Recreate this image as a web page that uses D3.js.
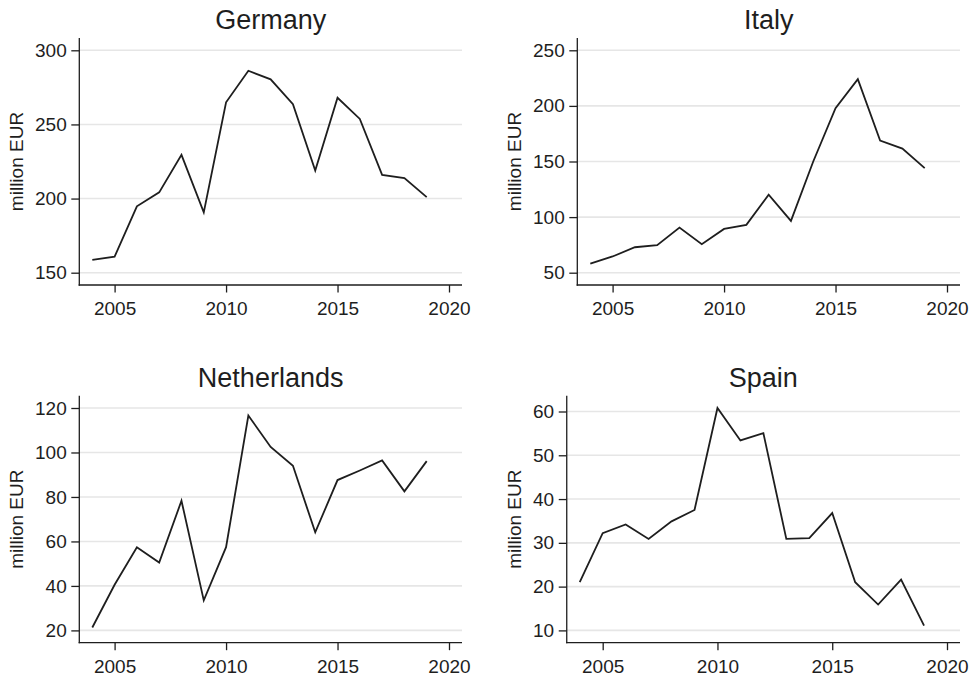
<!DOCTYPE html>
<html>
<head>
<meta charset="utf-8">
<script src="https://cdn.jsdelivr.net/npm/d3@7"></script>
<style>
  body { margin: 0; background: #fff; }
  svg text { font-family: "Liberation Sans", Arial, Helvetica, sans-serif; fill: #1e1e1e; }
</style>
</head>
<body>
<svg id="chart" width="974" height="679"></svg>
<script>
// Annual values, million EUR
const years = [2004, 2005, 2006, 2007, 2008, 2009, 2010, 2011, 2012, 2013, 2014, 2015, 2016, 2017, 2018, 2019];
const germany = [158.7, 160.8, 194.8, 204.2, 229.5, 190.7, 264.9, 286.2, 280.4, 263.6, 218.9, 268.0, 253.7, 216.0, 213.8, 201.0];
const italy = [58.1, 64.6, 72.9, 74.7, 90.6, 75.6, 89.4, 93.0, 120.2, 96.6, 150.0, 198.0, 224.1, 168.8, 161.6, 144.1];
const netherlands = [21.3, 40.5, 57.4, 50.5, 78.3, 33.5, 57.4, 116.6, 102.5, 94.0, 64.1, 87.6, 91.9, 96.4, 82.5, 96.1];
const spain = [21.0, 32.2, 34.2, 30.9, 34.9, 37.5, 60.8, 53.4, 55.05, 30.9, 31.1, 36.8, 21.0, 15.9, 21.6, 11.1];

// Tick labels
const xTicks = [2005, 2010, 2015, 2020];
const germanyTicks = [150, 200, 250, 300];
const italyTicks = [50, 100, 150, 200, 250];
const netherlandsTicks = [20, 40, 60, 80, 100, 120];
const spainTicks = [10, 20, 30, 40, 50, 60];
const yTitle = "million EUR";

const panels = [
  { title: "Germany", values: germany, ticks: germanyTicks, col: 0, row: 0 },
  { title: "Italy", values: italy, ticks: italyTicks, col: 1, row: 0 },
  { title: "Netherlands", values: netherlands, ticks: netherlandsTicks, col: 0, row: 1 },
  { title: "Spain", values: spain, ticks: spainTicks, col: 1, row: 1 }
];

const colStep = 498, rowStep = 357.7;
const tickFont = 19, titleFont = 27;
const ink = "#1e1e1e", gridColor = "#e6e6e6";

const svg = d3.select("#chart");

function labelWidth(s) {
  const t = svg.append("text").style("font-size", tickFont + "px").text(s);
  const w = t.node().getComputedTextLength();
  t.remove();
  return w;
}

panels.forEach(p => {
  const x0 = p.col * colStep, y0 = p.row * rowStep;
  const top = y0 + 38, bottom = y0 + 285;
  const left = x0 + 47.6 + d3.max(p.ticks, t => labelWidth(String(t)));
  const right = x0 + 462;
  const pad = 12.3;

  const x = d3.scaleLinear()
    .domain([d3.min([years[0], xTicks[0]]), d3.max([years[years.length - 1], xTicks[xTicks.length - 1]])])
    .range([left + 13, right - 13]);
  const yMin = Math.min(p.ticks[0], d3.min(p.values));
  const yMax = Math.max(p.ticks[p.ticks.length - 1], d3.max(p.values));
  const y = d3.scaleLinear().domain([yMin, yMax]).range([bottom - pad, top + pad]);

  const g = svg.append("g");

  // horizontal gridlines
  g.append("g").selectAll("line").data(p.ticks).join("line")
    .attr("x1", left).attr("x2", right)
    .attr("y1", d => y(d)).attr("y2", d => y(d))
    .attr("stroke", gridColor).attr("stroke-width", 1.6);

  // y axis
  const ya = g.append("g").attr("transform", `translate(${left},0)`)
    .call(d3.axisLeft(y).tickValues(p.ticks).tickSize(8).tickSizeOuter(0).tickPadding(4.6).tickFormat(d3.format("d")));
  ya.select(".domain").remove();
  ya.selectAll(".tick line").attr("stroke", ink).attr("stroke-width", 1.3);
  ya.selectAll(".tick text").style("font-size", tickFont + "px").attr("fill", ink);

  // x axis
  const xa = g.append("g").attr("transform", `translate(0,${bottom})`)
    .call(d3.axisBottom(x).tickValues(xTicks).tickSize(7.5).tickSizeOuter(0).tickPadding(9).tickFormat(d3.format("d")));
  xa.select(".domain").remove();
  xa.selectAll(".tick line").attr("stroke", ink).attr("stroke-width", 1.3);
  xa.selectAll(".tick text").style("font-size", tickFont + "px").attr("fill", ink);

  // axis lines
  g.append("line").attr("x1", left).attr("x2", left).attr("y1", top).attr("y2", bottom + 0.65)
    .attr("stroke", ink).attr("stroke-width", 1.3);
  g.append("line").attr("x1", left - 0.65).attr("x2", right).attr("y1", bottom).attr("y2", bottom)
    .attr("stroke", ink).attr("stroke-width", 1.3);

  // series line
  g.append("path")
    .datum(p.values)
    .attr("fill", "none")
    .attr("stroke", ink)
    .attr("stroke-width", 1.8)
    .attr("d", d3.line().x((d, i) => x(years[i])).y(d => y(d)));

  // panel title
  g.append("text")
    .attr("x", (left + right) / 2).attr("y", y0 + 29.3)
    .attr("text-anchor", "middle")
    .style("font-size", titleFont + "px")
    .text(p.title);

  // y axis title
  g.append("text")
    .attr("transform", `translate(${x0 + 22.7},${(top + bottom) / 2}) rotate(-90)`)
    .attr("text-anchor", "middle")
    .style("font-size", tickFont + "px")
    .text(yTitle);
});
</script>
</body>
</html>
